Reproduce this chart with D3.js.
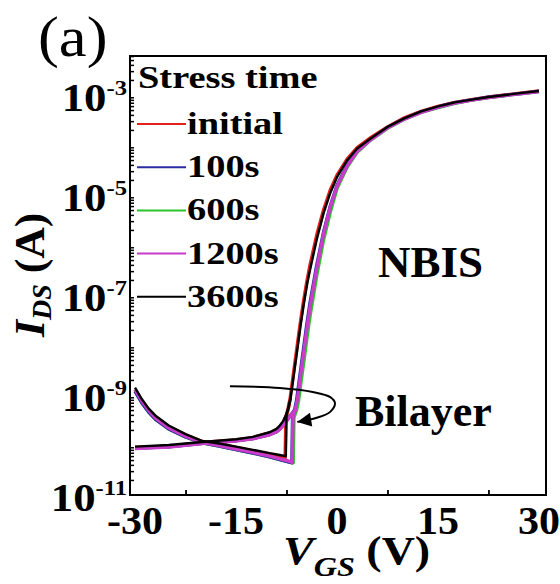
<!DOCTYPE html>
<html>
<head>
<meta charset="utf-8">
<script src="https://cdn.jsdelivr.net/npm/d3@7"></script>
<style>
  body { margin: 0; background: #fff; }
  svg { display: block; font-family: "Liberation Serif", "Times New Roman", serif; }
</style>
</head>
<body>
<div id="chart"></div>
<script>
// ---- data, VGS in V, IDS in A ----
const seriesNames  = ["initial", "100s", "600s", "1200s", "3600s"];
const seriesColors = ["#e2211c", "#2b2ba3", "#2bc42b", "#c93cc9", "#000000"];

// shared gate voltages for the on-state part of the forward sweep
const vOn = [-4, -3, -2, -1, 0, 1.5, 3, 5, 7.5, 10, 12.5, 15, 17.5, 20, 22.5, 25, 27.5, 30];

// off / subthreshold part of the forward sweep: [VGS, IDS]
const initialOff = [[-30,1.26e-9],[-29,7.6e-10],[-28,5.0e-10],[-27,3.6e-10],[-25,2.3e-10],[-22.5,1.6e-10],[-20,1.17e-10],[-17.5,1.05e-10],[-15,8.9e-11],[-12.5,7.6e-11],[-10,6.5e-11],[-8.5,5.9e-11],[-7.7,5.5e-11],[-7.6,3.5e-10],[-7.3,5.0e-10],[-7.0,7.9e-10],[-6.5,2.5e-9],[-6.0,7.9e-9],[-5.5,2.5e-8],[-5.0,7.1e-8],[-4.5,1.8e-7]];
const s100Off     = [[-30,1.2e-9],[-29,7.0e-10],[-28,4.6e-10],[-27,3.3e-10],[-25,2.1e-10],[-22.5,1.45e-10],[-20,1.1e-10],[-17.5,9.5e-11],[-15,8.1e-11],[-12.5,6.9e-11],[-10,5.8e-11],[-8.5,5.1e-11],[-7.5,4.7e-11],[-6.7,4.4e-11],[-6.6,3.5e-10],[-6.3,5.0e-10],[-6.0,7.9e-10],[-5.5,2.5e-9],[-5.0,7.9e-9],[-4.5,2.5e-8]];
const s600Off     = [[-30,1.2e-9],[-29,7.0e-10],[-28,4.6e-10],[-27,3.3e-10],[-25,2.1e-10],[-22.5,1.45e-10],[-20,1.1e-10],[-17.5,9.5e-11],[-15,8.1e-11],[-12.5,6.9e-11],[-10,5.8e-11],[-8.5,5.1e-11],[-7.5,4.7e-11],[-6.5,4.4e-11],[-6.4,3.5e-10],[-6.0,5.0e-10],[-5.7,7.9e-10],[-5.2,2.5e-9],[-4.7,7.9e-9],[-4.2,2.5e-8]];
const s1200Off    = [[-30,1.3e-9],[-29,7.6e-10],[-28,5.0e-10],[-27,3.5e-10],[-25,2.2e-10],[-22.5,1.5e-10],[-20,1.12e-10],[-17.5,9.7e-11],[-15,8.3e-11],[-12.5,7.1e-11],[-10,6.0e-11],[-8.5,5.3e-11],[-7.5,4.9e-11],[-6.65,4.5e-11],[-6.55,3.5e-10],[-6.2,5.0e-10],[-5.9,7.9e-10],[-5.4,2.5e-9],[-4.9,7.9e-9],[-4.4,2.5e-8]];
const s3600Off    = [[-30,1.4e-9],[-29,8.3e-10],[-28,5.4e-10],[-27,3.9e-10],[-25,2.45e-10],[-22.5,1.65e-10],[-20,1.2e-10],[-17.5,1.07e-10],[-15,9.3e-11],[-12.5,8.0e-11],[-10,6.9e-11],[-8.5,6.3e-11],[-7.6,6.0e-11],[-7.5,4.0e-10],[-7.2,5.6e-10],[-6.9,8.5e-10],[-6.4,2.6e-9],[-5.9,8.0e-9],[-5.4,2.5e-8],[-4.9,7.0e-8],[-4.4,1.75e-7]];

// on-state currents at vOn
const initialOn = [4.0e-7,1.6e-6,5.0e-6,1.26e-5,2.5e-5,5.2e-5,8.9e-5,1.4e-4,2.3e-4,3.5e-4,4.7e-4,5.9e-4,7.1e-4,8.1e-4,9.1e-4,1.0e-3,1.1e-3,1.2e-3];
const s100On     = [7.1e-8,4.0e-7,1.8e-6,6.0e-6,1.55e-5,4.0e-5,7.6e-5,1.29e-4,2.24e-4,3.35e-4,4.6e-4,5.75e-4,7.0e-4,8.0e-4,9.0e-4,9.9e-4,1.08e-3,1.19e-3];
const s600On     = [3.8e-8,2.5e-7,1.26e-6,4.5e-6,1.35e-5,3.6e-5,7.2e-5,1.26e-4,2.16e-4,3.27e-4,4.5e-4,5.6e-4,6.8e-4,7.9e-4,8.9e-4,9.8e-4,1.07e-3,1.17e-3];
const s1200On    = [5.8e-8,3.5e-7,1.66e-6,5.8e-6,1.48e-5,3.8e-5,7.4e-5,1.27e-4,2.2e-4,3.3e-4,4.5e-4,5.7e-4,6.9e-4,7.9e-4,8.9e-4,9.8e-4,1.07e-3,1.17e-3];
const s3600On    = [3.2e-7,1.3e-6,4.3e-6,1.1e-5,2.27e-5,4.9e-5,8.5e-5,1.35e-4,2.3e-4,3.4e-4,4.7e-4,5.9e-4,7.1e-4,8.1e-4,9.1e-4,1.0e-3,1.1e-3,1.2e-3];

// reverse sweep (flat off branch): [VGS, IDS]
const initialRev = [[-30,8.9e-11],[-25,9.5e-11],[-20,1.12e-10],[-15,1.26e-10],[-12.5,1.4e-10],[-10,1.74e-10],[-9,2.0e-10],[-8.5,2.3e-10],[-8,2.8e-10],[-7.5,4.0e-10],[-7.2,5.6e-10],[-7.0,7.9e-10]];
const s100Rev     = [[-30,8.7e-11],[-25,9.2e-11],[-20,1.08e-10],[-15,1.22e-10],[-12.5,1.35e-10],[-10,1.62e-10],[-9,1.85e-10],[-8.5,2.1e-10],[-8,2.5e-10],[-7.5,3.1e-10],[-7,3.8e-10],[-6.6,4.4e-10],[-6.3,5.0e-10]];
const s600Rev     = [[-30,8.7e-11],[-25,9.2e-11],[-20,1.08e-10],[-15,1.22e-10],[-12.5,1.35e-10],[-10,1.62e-10],[-9,1.85e-10],[-8.5,2.1e-10],[-8,2.5e-10],[-7.5,3.1e-10],[-7,3.8e-10],[-6.4,4.6e-10],[-6.0,5.0e-10]];
const s1200Rev    = [[-30,8.5e-11],[-25,9.1e-11],[-20,1.07e-10],[-15,1.2e-10],[-12.5,1.33e-10],[-10,1.6e-10],[-9,1.82e-10],[-8.5,2.05e-10],[-8,2.45e-10],[-7.5,3.0e-10],[-7,3.7e-10],[-6.6,4.3e-10],[-6.2,5.0e-10]];
const s3600Rev    = [[-30,9.3e-11],[-25,1.0e-10],[-20,1.15e-10],[-15,1.3e-10],[-12.5,1.45e-10],[-10,1.8e-10],[-9,2.1e-10],[-8.5,2.45e-10],[-8,3.0e-10],[-7.5,4.2e-10],[-7.2,5.8e-10],[-6.9,8.5e-10]];

const offSets = [initialOff, s100Off, s600Off, s1200Off, s3600Off];
const onSets  = [initialOn, s100On, s600On, s1200On, s3600On];
const revSets = [initialRev, s100Rev, s600Rev, s1200Rev, s3600Rev];

// tick labels
const xTickLabels = [-30, -15, 0, 15, 30];
const xMinorTicks = [-22.5, -7.5, 7.5, 22.5];
const yLabelExps  = [-3, -5, -7, -9, -11];

// "Bilayer" arrow path, in data coords
const arrowV = [-15.9, -8.5, -3.6, -1.0, -0.3, -1.0, -3.0, -5.9];
const arrowI = [1.5e-9, 1.38e-9, 1.15e-9, 9.1e-10, 6.9e-10, 4.6e-10, 3.5e-10, 2.9e-10];

// ---- layout ----
const width = 560, height = 584;
const margin = {top: 56, right: 14, bottom: 89, left: 130};

const svg = d3.select("#chart").append("svg")
    .attr("width", width)
    .attr("height", height);

const x = d3.scaleLinear().domain([-30.75, 31.05]).range([margin.left, width - margin.right]);
const y = d3.scaleLog().domain([1e-11, Math.pow(10, -2.22)]).range([height - margin.bottom, margin.top]);

// helper: text with a horizontal stretch
function label(px, py, sx, anchor, size, opts) {
  const g = svg.append("g").attr("transform", "translate(" + px + "," + py + ") scale(" + sx + ",1)");
  const t = g.append("text")
      .attr("text-anchor", anchor)
      .attr("font-size", size)
      .attr("font-weight", (opts && opts.normal) ? "normal" : "bold");
  return t;
}

// ---- axes ----
const xAxisG = svg.append("g").attr("transform", "translate(0," + y.range()[0] + ")");
xAxisG.call(d3.axisBottom(x).tickValues(xTickLabels).tickSize(-9).tickFormat(""));
xAxisG.call(d3.axisBottom(x).tickValues(xMinorTicks).tickSize(-5).tickFormat(""));
xAxisG.selectAll(".domain").remove();
xAxisG.selectAll("line").attr("stroke", "#000").attr("stroke-width", 1.8);

const yMajor = y.ticks().filter(d => Math.abs(Math.log10(d) - Math.round(Math.log10(d))) < 1e-6);
const yMinor = y.ticks().filter(d => yMajor.indexOf(d) < 0);
const yAxisG = svg.append("g").attr("transform", "translate(" + x.range()[0] + ",0)");
yAxisG.call(d3.axisLeft(y).tickValues(yMajor).tickSize(-8).tickFormat(""));
yAxisG.call(d3.axisLeft(y).tickValues(yMinor).tickSize(-4).tickFormat(""));
yAxisG.selectAll(".domain").remove();
yAxisG.selectAll("line").attr("stroke", "#000").attr("stroke-width", 1.5);

// frame
svg.append("rect")
    .attr("x", x.range()[0]).attr("y", y.range()[1])
    .attr("width", x.range()[1] - x.range()[0])
    .attr("height", y.range()[0] - y.range()[1])
    .attr("fill", "none").attr("stroke", "#000").attr("stroke-width", 2);

// tick labels
xTickLabels.forEach(v => {
  label(x(v), 534, 1.05, "middle", 40).text(v);
});
yLabelExps.forEach(e => {
  const t = label(127, y(Math.pow(10, e)) + 16, 1.12, "end", 40);
  t.append("tspan").text("10");
  t.append("tspan").attr("font-size", 22).attr("dy", -16).text(e);
});

// axis titles
const xt = label(283, 564, 1.15, "start", 40);
xt.append("tspan").attr("font-style", "italic").text("V");
xt.append("tspan").attr("font-style", "italic").attr("font-size", 28).attr("dy", 12).text("GS");
xt.append("tspan").attr("dy", -12).text(" (V)");

const ytG = svg.append("g").attr("transform", "translate(44,337) rotate(-90) scale(1.04,1)");
const yt = ytG.append("text").attr("font-size", 42).attr("font-weight", "bold");
yt.append("tspan").attr("font-style", "italic").text("I");
yt.append("tspan").attr("font-style", "italic").attr("font-size", 27).attr("dy", 7).text("DS");
yt.append("tspan").attr("dy", -7).text(" (A)");

// ---- curves ----
const line = d3.line().x(d => x(d[0])).y(d => y(d[1]));
const drawOrder = [0, 2, 1, 3, 4];
const curves = svg.append("g").attr("fill", "none").attr("stroke-linejoin", "round");
drawOrder.forEach(i => {
  const fwd = offSets[i].concat(d3.zip(vOn, onSets[i]));
  const w = i === 4 ? 2.4 : 3.4;
  curves.append("path").attr("d", line(fwd)).attr("stroke", seriesColors[i]).attr("stroke-width", w);
  curves.append("path").attr("d", line(revSets[i])).attr("stroke", seriesColors[i]).attr("stroke-width", w);
});

// ---- legend ----
const legendX = 137, legendY0 = 124, legendStep = 43.2;
label(138, 88, 1.2, "start", 32).text("Stress time");
seriesNames.forEach((name, i) => {
  const ly = legendY0 + i * legendStep;
  svg.append("line")
      .attr("x1", legendX).attr("x2", legendX + 49)
      .attr("y1", ly).attr("y2", ly)
      .attr("stroke", seriesColors[i]).attr("stroke-width", 2);
  label(legendX + 50, ly + 10, 1.2, "start", 32).text(name);
});

// ---- annotations ----
label(378, 277, 1.0, "start", 45).text("NBIS");
label(355, 426, 1.0, "start", 44).text("Bilayer");

svg.append("defs").append("marker")
    .attr("id", "arrowhead")
    .attr("viewBox", "0 0 10 10")
    .attr("refX", 10).attr("refY", 5)
    .attr("markerWidth", 18).attr("markerHeight", 14)
    .attr("markerUnits", "userSpaceOnUse")
    .attr("orient", "auto")
  .append("path").attr("d", "M0,0 L10,5 L0,10 z").attr("fill", "#000");

const arrowLine = d3.line().curve(d3.curveCatmullRom.alpha(0.5)).x(d => x(d[0])).y(d => y(d[1]));
svg.append("path")
    .attr("d", arrowLine(d3.zip(arrowV, arrowI)))
    .attr("fill", "none").attr("stroke", "#000").attr("stroke-width", 2)
    .attr("marker-end", "url(#arrowhead)");

// panel label
label(38, 56, 1.08, "start", 58, {normal: true}).text("(a)");
</script>
</body>
</html>
